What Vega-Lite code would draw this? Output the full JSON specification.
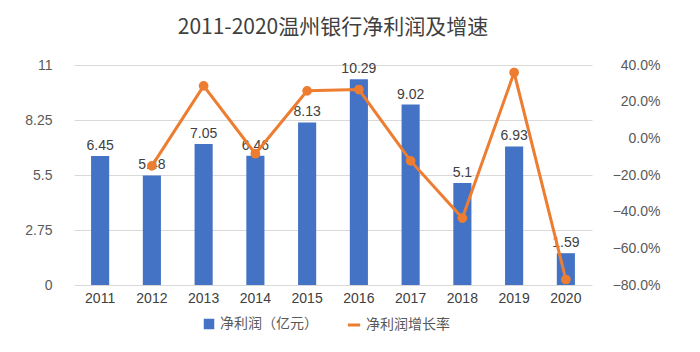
{
  "$schema": "https://vega.github.io/schema/vega-lite/v6.json",
  "autosize": {"type": "none"},
  "width": 518,
  "height": 220,
  "padding": {"left": 74, "top": 65, "right": 108, "bottom": 67},
  "background": "#ffffff",
  "config": {
    "view": {"stroke": null},
    "font": "Noto Sans CJK SC",
    "axis": {"labelFont": "Liberation Sans", "labelFontSize": 14, "labelColor": "#595959", "domain": false, "ticks": false, "title": null}
  },
  "title": {"text": "2011-2020温州银行净利润及增速", "fontSize": 21, "fontWeight": "normal", "color": "#404040", "font": "Noto Sans CJK SC", "anchor": "middle", "frame": "group", "offset": 20},
  "data": {"values": [
    {"year": "2011", "profit": 6.45, "growth": null},
    {"year": "2012", "profit": 5.48, "growth": -0.15},
    {"year": "2013", "profit": 7.05, "growth": 0.286},
    {"year": "2014", "profit": 6.46, "growth": -0.084},
    {"year": "2015", "profit": 8.13, "growth": 0.259},
    {"year": "2016", "profit": 10.29, "growth": 0.266},
    {"year": "2017", "profit": 9.02, "growth": -0.123},
    {"year": "2018", "profit": 5.1, "growth": -0.435},
    {"year": "2019", "profit": 6.93, "growth": 0.359},
    {"year": "2020", "profit": 1.59, "growth": -0.77}
  ]},
  "encoding": {
    "x": {"field": "year", "type": "ordinal", "scale": {"paddingInner": 0.65, "paddingOuter": 0.33}, "axis": {"labelAngle": 0, "labelPadding": 6, "grid": false, "labelColor": "#404040"}}
  },
  "layer": [
    {
      "layer": [
        {
          "mark": {"type": "bar", "color": "#4472C4"},
          "encoding": {
            "y": {"field": "profit", "type": "quantitative", "scale": {"domain": [0, 11], "nice": false}, "axis": {"values": [0, 2.75, 5.5, 8.25, 11], "format": ".3~g", "gridColor": "#d9d9d9", "labelPadding": 22, "labelColor": "#595959"}},
            "color": {"datum": "净利润（亿元）", "scale": {"range": ["#4472C4"]}, "legend": {"orient": "none", "legendX": 128, "legendY": 252, "symbolType": "square", "symbolSize": 110, "labelFontSize": 14, "labelColor": "#595959", "labelFont": "Noto Sans CJK SC", "title": null}}
          }
        },
        {
          "mark": {"type": "text", "dy": -10, "fontSize": 14, "color": "#404040", "font": "Liberation Sans"},
          "encoding": {
            "y": {"field": "profit", "type": "quantitative", "scale": {"domain": [0, 11], "nice": false}},
            "text": {"field": "profit", "type": "quantitative"}
          }
        }
      ]
    },
    {
      "mark": {"type": "line", "color": "#ED7D31", "strokeWidth": 3, "point": {"filled": true, "size": 60, "color": "#ED7D31"}},
      "transform": [{"filter": "datum.growth != null"}],
      "encoding": {
        "y": {"field": "growth", "type": "quantitative", "scale": {"domain": [-0.8, 0.4], "nice": false}, "axis": {"orient": "right", "format": ".1%", "values": [-0.8, -0.6, -0.4, -0.2, 0, 0.2, 0.4], "grid": false, "labelPadding": 68, "labelAlign": "right", "labelColor": "#595959"}},
        "stroke": {"datum": "净利润增长率", "scale": {"range": ["#ED7D31"]}, "legend": {"orient": "none", "legendX": 272, "legendY": 252, "symbolType": "stroke", "labelFontSize": 14, "labelColor": "#595959", "labelFont": "Noto Sans CJK SC", "title": null, "symbolStrokeWidth": 3, "symbolSize": 150}}
      }
    }
  ],
  "resolve": {"scale": {"y": "independent", "color": "independent", "stroke": "independent"}}
}
